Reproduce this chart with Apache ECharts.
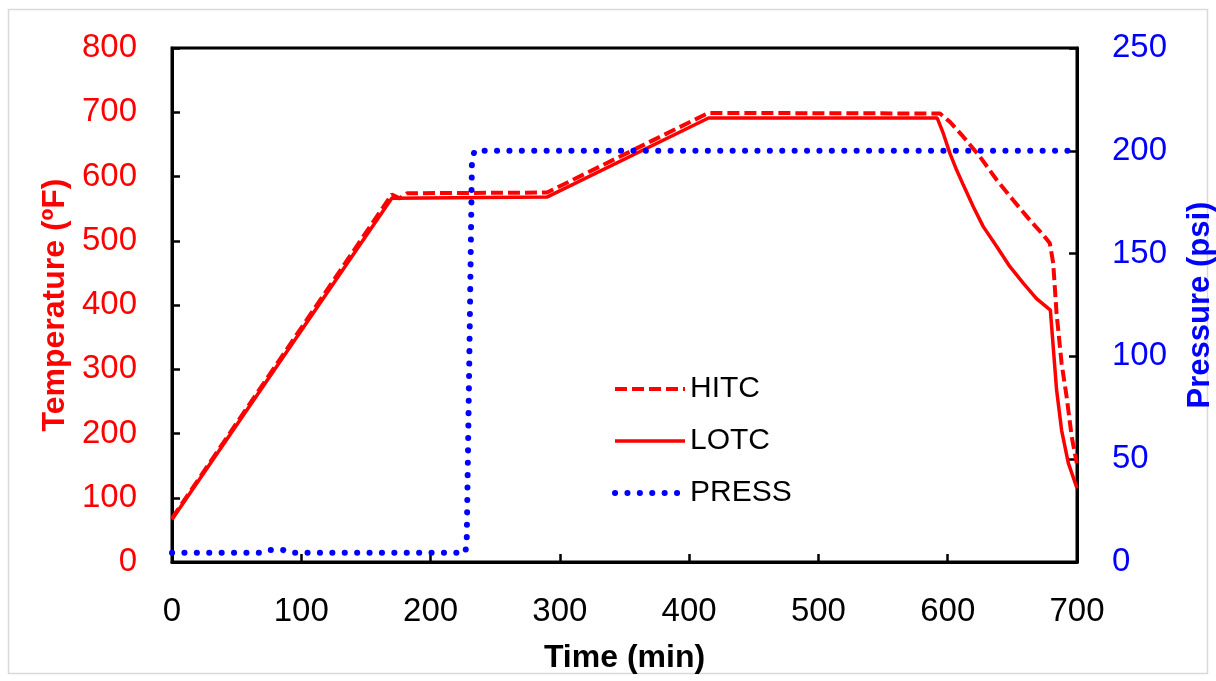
<!DOCTYPE html>
<html><head><meta charset="utf-8">
<script src="https://cdn.jsdelivr.net/npm/echarts@6/dist/echarts.min.js"></script>
<style>html,body{margin:0;padding:0;background:#fff}#c{width:1216px;height:681px}</style>
</head><body><div id="c"></div>
<script>
// ---- data ----
const hitcTime = [0, 170, 176, 182, 290, 415, 594, 601.7, 612, 624.9, 637.8, 650.7, 663.6, 673.9, 679, 681.6, 684.2, 688.1, 692, 695.9, 699.8];
const hitcTemp = [68, 572, 566, 574, 575, 699, 698, 685, 662, 631, 595, 563, 532, 509, 496, 465, 387, 309, 257, 195, 154];
const lotcTime = [0, 170, 290, 415, 591.9, 596.6, 601.7, 606.9, 612, 619.8, 627.5, 637.9, 648, 658.4, 668.7, 679.4, 681.6, 684.2, 688.1, 693.3, 700];
const lotcTemp = [66, 566, 568, 691, 691, 667, 636, 610, 587, 553, 522, 491, 460, 434, 410, 392, 335, 268, 205, 154, 115];
const pressTime = [0, 68, 74, 86, 92, 227, 228, 230, 232, 234, 700];
const pressPsi = [4.5, 4.5, 5.8, 5.8, 4.5, 4.5, 12, 100, 195, 200, 200];
const xTicks = {min: 0, max: 700, interval: 100};
const tTicks = {min: 0, max: 800, interval: 100};
const pTicks = {min: 0, max: 250, interval: 50};

const zip = (a, b) => a.map((v, i) => [v, b[i]]);
const FONT = '"Liberation Sans", Arial, sans-serif';
const chart = echarts.init(document.getElementById('c'), null, {renderer: 'canvas'});
const axisCommon = {
  axisLine: {show: true, lineStyle: {color: '#000', width: 3}},
  axisTick: {show: true, inside: true, length: 8, lineStyle: {color: '#000', width: 2.5}},
  splitLine: {show: false}
};
chart.setOption({
  animation: false,
  backgroundColor: '#fff',
  graphic: [{type: 'rect', shape: {x: 8.5, y: 9.5, width: 1199, height: 664},
    style: {fill: 'none', stroke: '#d9d9d9', lineWidth: 1.5}, z: -10}],
  grid: {left: 172, right: 139, top: 48, bottom: 119, containLabel: false, outerBoundsMode: 'none',
    show: true, borderColor: '#000', borderWidth: 3, backgroundColor: 'transparent'},
  legend: {
    orient: 'vertical', left: 612, top: 374, padding: 0, itemWidth: 70, itemHeight: 14, itemGap: 22,
    itemStyle: {opacity: 0},
    lineStyle: {width: 'inherit', type: 'inherit', cap: 'inherit'},
    textStyle: {fontFamily: FONT, fontSize: 30, color: '#000', lineHeight: 30},
    data: ['HITC', 'LOTC', 'PRESS']
  },
  xAxis: Object.assign({
    type: 'value', min: xTicks.min, max: xTicks.max, interval: xTicks.interval,
    name: 'Time (min)', nameLocation: 'middle', nameGap: 80,
    nameTextStyle: {fontFamily: FONT, fontSize: 32, fontWeight: 'bold', color: '#000'},
    axisLabel: {fontFamily: FONT, fontSize: 33, color: '#000', margin: 33}
  }, axisCommon),
  yAxis: [
    Object.assign({
      type: 'value', position: 'left', min: tTicks.min, max: tTicks.max, interval: tTicks.interval,
      name: 'Temperature (ºF)', nameLocation: 'middle', nameGap: 100, nameRotate: 90,
      nameTextStyle: {fontFamily: FONT, fontSize: 32, fontWeight: 'bold', color: '#ff0000'},
      axisLabel: {fontFamily: FONT, fontSize: 33, color: '#ff0000', margin: 35}
    }, axisCommon),
    Object.assign({
      type: 'value', position: 'right', min: pTicks.min, max: pTicks.max, interval: pTicks.interval,
      name: 'Pressure (psi)', nameLocation: 'middle', nameGap: 108, nameRotate: 90,
      nameTextStyle: {fontFamily: FONT, fontSize: 31, fontWeight: 'bold', color: '#0000ff'},
      axisLabel: {fontFamily: FONT, fontSize: 33, color: '#0000ff', margin: 35}
    }, axisCommon)
  ],
  series: [
    {name: 'HITC', type: 'line', yAxisIndex: 0, data: zip(hitcTime, hitcTemp), symbol: 'none',
      color: '#ff0000', lineStyle: {color: '#ff0000', width: 4, type: [12, 5]}},
    {name: 'LOTC', type: 'line', yAxisIndex: 0, data: zip(lotcTime, lotcTemp), symbol: 'none',
      color: '#ff0000', lineStyle: {color: '#ff0000', width: 3.5, type: 'solid'}},
    {name: 'PRESS', type: 'line', yAxisIndex: 1, data: zip(pressTime, pressPsi), symbol: 'none',
      color: '#0000ff', lineStyle: {color: '#0000ff', width: 6, type: [0.1, 12.3], cap: 'round'}}
  ]
});
</script></body></html>
